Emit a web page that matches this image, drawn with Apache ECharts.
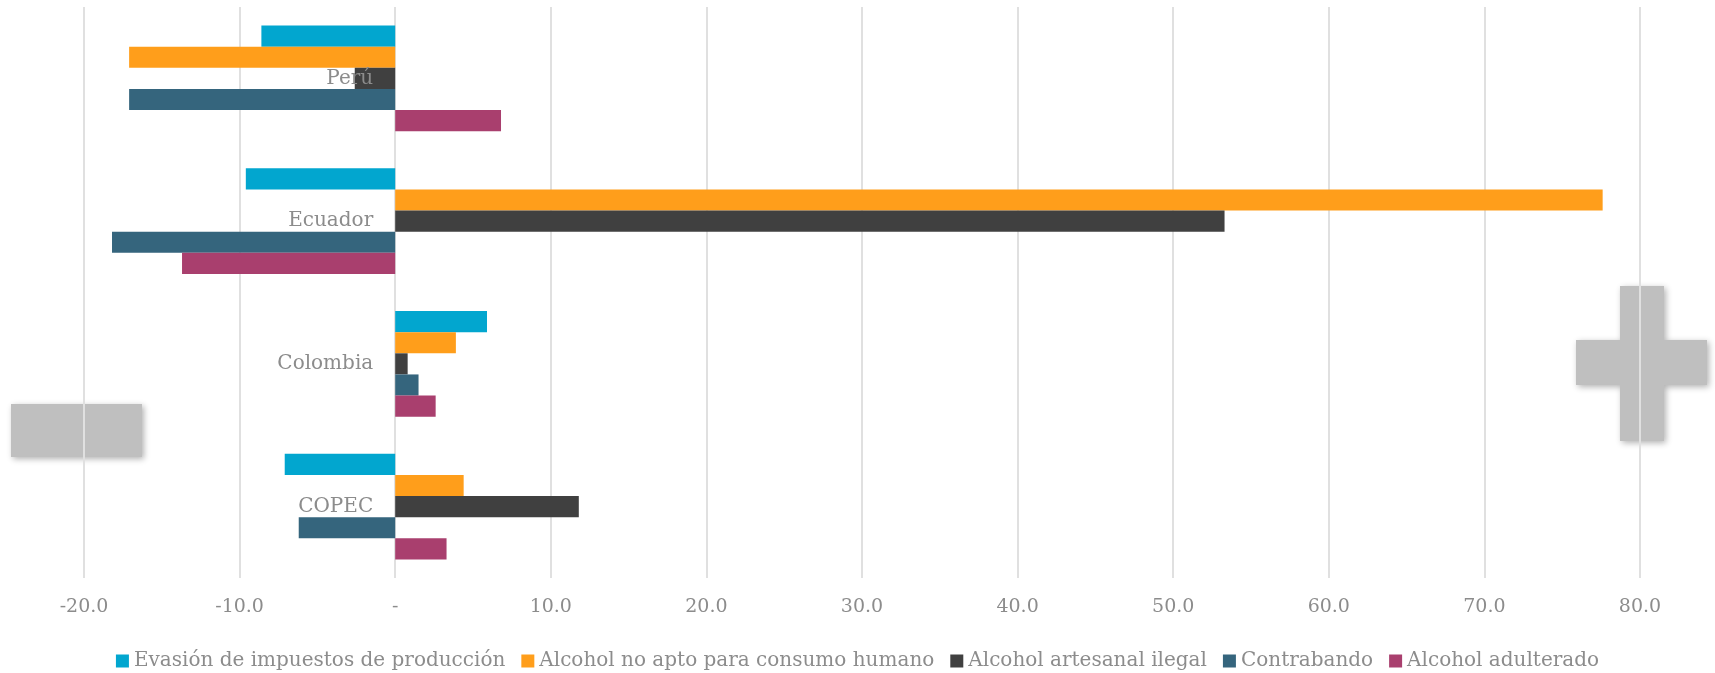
<!DOCTYPE html>
<html><head><meta charset="utf-8">
<script src="https://cdn.jsdelivr.net/npm/echarts@6/dist/echarts.min.js"></script>
<style>html,body{margin:0;padding:0;background:#fff}#c{width:1715px;height:673px}</style>
</head><body><div id="c"></div>
<script>
const categories = ['Perú', 'Ecuador', 'Colombia', 'COPEC'];
const seriesNames = ['Evasión de impuestos de producción', 'Alcohol no apto para consumo humano', 'Alcohol artesanal ilegal', 'Contrabando', 'Alcohol adulterado'];
const evasion = [-8.6, -9.6, 5.9, -7.1];
const noApto = [-17.1, 77.6, 3.9, 4.4];
const artesanal = [-2.6, 53.3, 0.8, 11.8];
const contrabando = [-17.1, -18.2, 1.5, -6.2];
const adulterado = [6.8, -13.7, 2.6, 3.3];
const xTicks = [-20, -10, 0, 10, 20, 30, 40, 50, 60, 70, 80];
const colors = ['#02A6CF', '#FF9E1B', '#404040', '#35657D', '#A93F6E'];
const values = [evasion, noApto, artesanal, contrabando, adulterado];

const font = '"DejaVu Serif", serif';
const gridLeft = 84;
const chart = echarts.init(document.getElementById('c'));
chart.setOption({
  animation: false,
  color: colors,
  grid: { left: gridLeft, right: 75, top: 7, bottom: 95, containLabel: false, outerBoundsMode: 'none' },
  legend: {
    top: 646, left: 'center', itemWidth: 13, itemHeight: 13, itemGap: 16,
    icon: 'rect',
    textStyle: { color: '#8c8c8c', fontSize: 20, fontFamily: font }
  },
  xAxis: {
    type: 'value', min: xTicks[0], max: xTicks[xTicks.length - 1], interval: 10,
    axisLine: { show: false }, axisTick: { show: false },
    splitLine: { lineStyle: { color: '#e0e0e0', width: 2 } },
    axisLabel: {
      color: '#8c8c8c', fontSize: 19, fontFamily: font, margin: 20,
      formatter: v => v === 0 ? '-' : v.toFixed(1)
    }
  },
  yAxis: {
    type: 'category', data: categories, inverse: true, z: 10,
    axisLine: { show: false }, axisTick: { show: false },
    axisLabel: { color: '#8c8c8c', fontSize: 20, fontFamily: font, margin: 22 }
  },
  graphic: [
    { type: 'rect', shape: { x: 11, y: 404, width: 131, height: 53 },
      style: { fill: '#bfbfbf', shadowBlur: 6, shadowColor: 'rgba(0,0,0,0.3)', shadowOffsetX: 2, shadowOffsetY: 2 } },
    { type: 'polygon', shape: { points: [[1620,286],[1664,286],[1664,340],[1707,340],[1707,385],[1664,385],[1664,441],[1620,441],[1620,385],[1576,385],[1576,340],[1620,340]] },
      style: { fill: '#bfbfbf', shadowBlur: 6, shadowColor: 'rgba(0,0,0,0.3)', shadowOffsetX: 2, shadowOffsetY: 2 } }
  ],
  series: seriesNames.map((n, i) => ({
    name: n, type: 'bar', data: values[i],
    barGap: '0%', barCategoryGap: '26%',
    itemStyle: { color: colors[i] }
  }))
});
// place the category axis on the zero line of the value axis
const zeroPx = chart.convertToPixel({ xAxisIndex: 0 }, 0);
chart.setOption({ yAxis: { offset: -(zeroPx - gridLeft) } });
</script></body></html>
